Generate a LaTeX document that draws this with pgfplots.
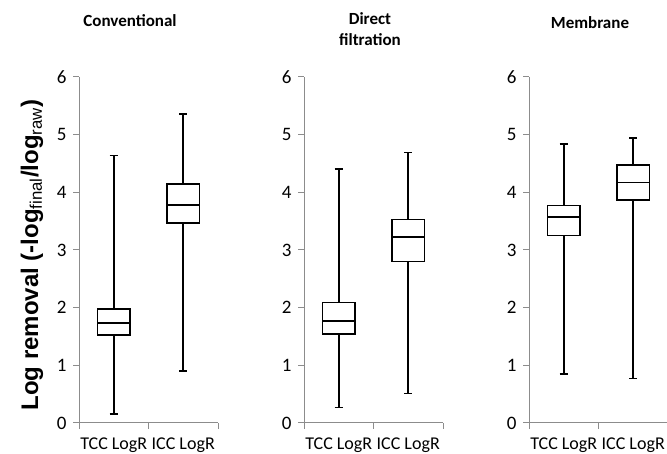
\documentclass[border=0pt]{standalone}
\usepackage{fontspec}
\setmainfont{Carlito}
\newfontfamily\labfont{Liberation Sans}
\usepackage{pgfplots}
\pgfplotsset{compat=1.18}
\usepgfplotslibrary{statistics}

\pgfplotsset{
  panel/.style={
    width=139pt, height=346pt, scale only axis, anchor=south west,
    xmin=0.5, xmax=2.5, ymin=0, ymax=6,
    axis x line*=bottom, axis y line*=left,
    axis line style={black!45, line width=1pt},
    tick style={black!45, line width=1pt},
    tick align=outside, major tick length=6pt,
    ytick={0,1,...,6},
    yticklabel style={font=\fontsize{19}{19}\selectfont, xshift=-3pt},
    xtick={0.5,1.5,2.5}, xticklabels={},
    extra x ticks={1,2}, extra x tick labels={TCC LogR,ICC LogR},
    extra x tick style={major tick length=0pt,
      xticklabel style={font=\fontsize{18}{18}\selectfont, yshift=-11pt}},
    /pgf/number format/assume math mode=true,
    clip=false,
    boxplot/draw direction=y,
  },
  bx/.style={black, line width=1.8pt, solid},
}

\begin{document}
\begin{tikzpicture}
\useasboundingbox (0,0) rectangle (667pt,454pt);

% Conventional
\begin{axis}[panel, at={(79pt,31pt)}]
\addplot[bx, boxplot prepared={draw position=1, lower whisker=0.15, lower quartile=1.53,
  median=1.73, upper quartile=1.97, upper whisker=4.64, box extend=0.47, whisker extend=0.12}] coordinates {};
\addplot[bx, boxplot prepared={draw position=2, lower whisker=0.90, lower quartile=3.47,
  median=3.78, upper quartile=4.14, upper whisker=5.36, box extend=0.47, whisker extend=0.12}] coordinates {};
\end{axis}

% Direct filtration
\begin{axis}[panel, at={(304pt,31pt)}]
\addplot[bx, boxplot prepared={draw position=1, lower whisker=0.27, lower quartile=1.55,
  median=1.77, upper quartile=2.09, upper whisker=4.41, box extend=0.47, whisker extend=0.12}] coordinates {};
\addplot[bx, boxplot prepared={draw position=2, lower whisker=0.51, lower quartile=2.80,
  median=3.23, upper quartile=3.53, upper whisker=4.69, box extend=0.47, whisker extend=0.12}] coordinates {};
\end{axis}

% Membrane
\begin{axis}[panel, at={(529pt,31pt)}]
\addplot[bx, boxplot prepared={draw position=1, lower whisker=0.85, lower quartile=3.25,
  median=3.57, upper quartile=3.77, upper whisker=4.84, box extend=0.47, whisker extend=0.12}] coordinates {};
\addplot[bx, boxplot prepared={draw position=2, lower whisker=0.77, lower quartile=3.87,
  median=4.17, upper quartile=4.47, upper whisker=4.94, box extend=0.47, whisker extend=0.12}] coordinates {};
\end{axis}

\node[font=\bfseries\fontsize{17}{20}\selectfont] at (130pt,433pt) {Conventional};
\node[font=\bfseries\fontsize{17}{21}\selectfont, align=center] at (370pt,425pt) {Direct\\filtration};
\node[font=\bfseries\fontsize{17}{20}\selectfont] at (590pt,431pt) {Membrane};

\node[rotate=90, font=\labfont\bfseries\fontsize{24}{24}\selectfont] at (32pt,199pt)
  {Log removal (-log\textsubscript{\mdseries final}/log\textsubscript{\mdseries raw})};
\end{tikzpicture}
\end{document}
